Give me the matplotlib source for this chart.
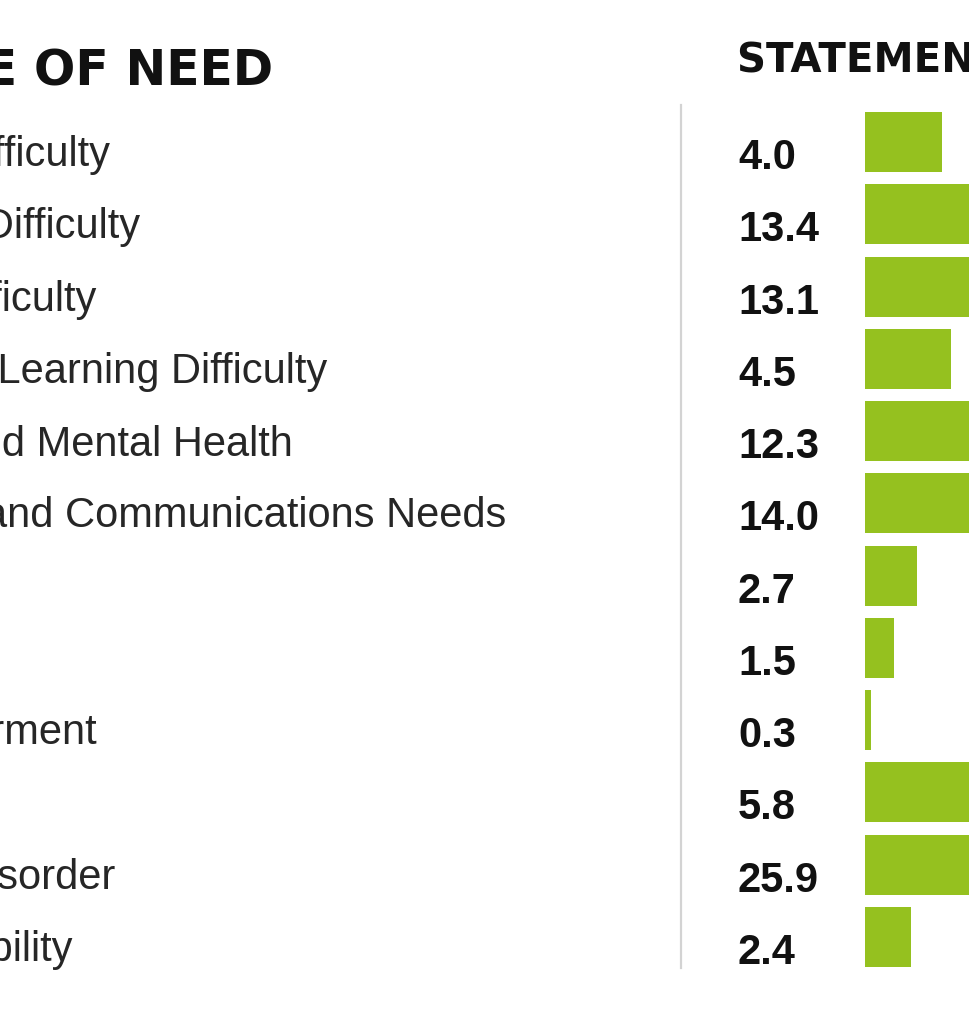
import matplotlib.pyplot as plt
from matplotlib.lines import Line2D

# type of need -> % of statements
labels = [
    "Specific Learning Difficulty",
    "Moderate Learning Difficulty",
    "Severe Learning Difficulty",
    "Profound & Multiple Learning Difficulty",
    "Social, Emotional and Mental Health",
    "Speech, Language and Communications Needs",
    "Hearing Impairment",
    "Visual Impairment",
    "Multi-Sensory Impairment",
    "Physical Disability",
    "Autistic Spectrum Disorder",
    "Other Difficulty/Disability",
]
values = [4.0, 13.4, 13.1, 4.5, 12.3, 14.0, 2.7, 1.5, 0.3, 5.8, 25.9, 2.4]

W, H = 970, 1024
green = "#95c11f"

fig = plt.figure(figsize=(W / 100, H / 100), dpi=100)
fig.patch.set_facecolor("white")

# bars axes: starts at x=865px, 19.2 px per percent, rows 72.25 px apart
top, bottom = 106, 973
ax = fig.add_axes([865 / W, 1 - bottom / H, 30 * 19.2 / W, (bottom - top) / H])
y = list(range(len(values)))
ax.barh(y, values, height=0.83, color=green)
ax.set_xlim(0, 30)
ax.set_ylim(len(values) - 0.5, -0.5)
ax.axis("off")

# value column
for i, v in enumerate(values):
    ax.annotate(f"{v:.1f}", xy=(738 / W, i), xycoords=("figure fraction", "data"),
                xytext=(0, -27), textcoords="offset pixels",
                ha="left", va="baseline", fontsize=30, fontweight="bold",
                family="Liberation Sans", color="#111111")

# category labels (left part falls off the picture, as in the source crop)
texts = []
for i, lab in enumerate(labels):
    t = ax.annotate(lab, xy=(0, i), xycoords=("figure fraction", "data"),
                    xytext=(0, -24), textcoords="offset pixels",
                    ha="left", va="baseline", fontsize=30,
                    family="Liberation Sans", color="#262626")
    texts.append(t)

r = fig.canvas.get_renderer()
longest = texts[5].get_window_extent(r).width
x0 = (506 - longest) / W
for t in texts:
    t.xy = (x0, t.xy[1])

fig.text(273 / W, 1 - 86 / H, "TYPE OF NEED", ha="right", va="baseline",
         fontsize=35, fontweight="bold", family="DejaVu Sans", color="#111111")
fig.text(737 / W, 1 - 72 / H, "STATEMENTS (%)", ha="left", va="baseline",
         fontsize=29, fontweight="bold", family="DejaVu Sans", color="#111111")

fig.add_artist(Line2D([681 / W, 681 / W], [1 - 105 / H, 1 - 968 / H],
                      transform=fig.transFigure, color="#d3d3d3", lw=1.6))

fig.savefig("out.png", dpi=100, facecolor="white")
